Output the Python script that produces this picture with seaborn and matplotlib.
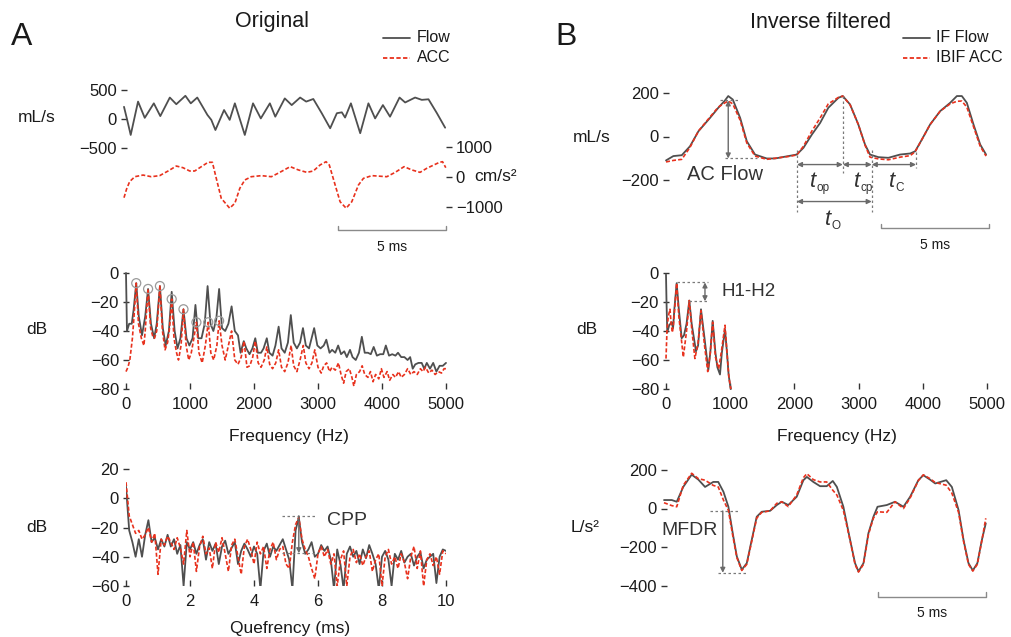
import numpy as np
import matplotlib
matplotlib.use("Agg")
import matplotlib.pyplot as plt
import seaborn as sns

# ---------------- data ----------------
# A: original flow (mL/s) and accelerometer (cm/s^2) vs time (ms)
flow_t = [0.00,0.15,0.31,0.65,0.96,1.38,1.68,2.12,2.42,2.84,3.09,3.39,3.86,4.04,4.23,4.63,4.89,5.13,5.59,5.97,
          6.33,6.75,7.00,7.44,7.76,8.15,8.43,8.76,9.15,9.54,9.85,10.08,10.23,10.50,10.93,11.31,11.62,11.98,12.31,
          12.75,13.01,13.47,13.78,14.09,14.48,14.86]
flow_v = [210,-20,-275,300,20,270,50,370,255,400,270,370,70,-15,-190,155,-15,270,-275,270,
          10,270,40,355,240,370,300,345,100,-160,100,115,25,270,-245,270,10,240,40,
          370,285,370,330,340,100,-150]
acc_t = [0.00,0.12,0.26,0.50,0.88,1.26,1.65,2.04,2.42,2.73,3.04,3.27,3.58,3.89,4.09,4.27,4.50,4.89,5.13,5.36,
         5.59,5.89,6.36,6.82,7.21,7.69,8.07,8.46,8.76,9.07,9.35,9.50,9.77,10.00,10.28,10.54,10.85,11.08,11.47,
         12.16,12.55,12.96,13.32,13.70,14.01,14.60,14.74,14.89]
acc_v = [-690,-400,-155,10,65,10,45,200,365,310,200,200,345,490,490,-45,-710,-1040,-875,-375,
         -100,10,45,10,155,345,235,155,200,400,510,400,-265,-825,-1040,-825,-265,-45,45,
         10,155,345,235,155,290,490,510,310]

# A: spectra (Hz, dB)
specL_flow_f = [0,15,50,90,120,160,200,250,300,345,390,440,480,530,575,620,670,714,760,805,
                850,898,945,990,1040,1085,1130,1180,1230,1275,1320,1365,1410,1455,1500,1550,1600,1650,1700,1750,
                1790,1840,1880,1930,1975,2020,2060,2110,2150,2200,2240,2290,2335,2385,2430,2480,2530,2575,2620,2670,
                2720,2765,2810,2860,2900,2940,2990,3040,3090,3130,3180,3220,3270,3315,3360,3410,3450,3500,3540,3590,
                3640,3685,3730,3780,3825,3870,3920,3970,4020,4060,4110,4160,4210,4250,4300,4350,4400,4440,4480,4520,
                4570,4620,4660,4700,4750,4800,4850,4900,4950,5000]
specL_flow_db = [0,-40,-35,-35,-25,-7,-30,-43,-30,-11,-35,-45,-35,-9,-38,-50,-40,-13,-40,-52,
                 -45,-25,-45,-50,-45,-22,-45,-45,-35,-9,-35,-40,-32,-11,-38,-40,-35,-23,-40,-43,
                 -55,-47,-52,-56,-52,-45,-55,-55,-52,-45,-55,-57,-50,-37,-52,-55,-48,-29,-48,-52,
                 -48,-38,-50,-52,-45,-38,-50,-52,-50,-46,-55,-53,-55,-50,-56,-54,-58,-53,-58,-60,
                 -55,-44,-55,-55,-56,-51,-57,-56,-56,-50,-57,-56,-57,-55,-58,-58,-60,-58,-66,-63,
                 -62,-62,-66,-62,-66,-62,-68,-64,-64,-62]
specL_acc_f = [0,30,60,100,125,160,195,240,280,300,345,385,420,445,480,530,570,610,650,680,
               714,750,790,820,860,898,940,980,1020,1060,1100,1140,1190,1240,1285,1325,1370,1420,1455,1500,
               1550,1600,1650,1700,1750,1800,1845,1890,1935,1980,2020,2065,2110,2160,2200,2245,2290,2340,2385,2430,
               2480,2530,2580,2620,2670,2720,2770,2810,2860,2905,2950,3000,3050,3090,3135,3180,3220,3270,3320,3360,
               3400,3440,3490,3530,3560,3600,3650,3690,3730,3780,3820,3860,3900,3950,3990,4030,4080,4120,4170,4210,
               4260,4300,4350,4400,4450,4500,4550,4600,4640,4680,4730,4780,4830,4880,4930,4970,5000]
specL_acc_db = [-68,-65,-60,-45,-30,-7,-35,-45,-50,-40,-11,-38,-44,-45,-40,-9,-40,-53,-48,-38,
                -18,-45,-55,-60,-50,-25,-50,-60,-55,-45,-34,-55,-62,-50,-34,-55,-60,-50,-33,-50,
                -60,-50,-40,-60,-63,-58,-47,-65,-64,-58,-47,-62,-65,-60,-51,-63,-66,-62,-53,-65,
                -68,-62,-50,-64,-68,-60,-50,-62,-66,-62,-53,-65,-69,-64,-62,-68,-65,-67,-62,-70,
                -76,-68,-66,-72,-78,-70,-68,-64,-70,-72,-68,-75,-70,-73,-66,-72,-68,-74,-70,-72,
                -68,-72,-70,-66,-70,-68,-70,-66,-68,-65,-69,-67,-70,-68,-69,-66,-66]
harm_f = [160,345,530,714,898,1100,1285,1455]
harm_db = [-7,-11,-9,-18,-25,-34,-34,-33]

# A: cepstra (dB), quefrency 0..10 ms
cep_flow = [8,-22,-30,-40,-28,-40,-25,-15,-30,-27,
            -35,-28,-33,-25,-33,-28,-38,-32,-60,-30,
            -35,-30,-38,-32,-28,-42,-30,-36,-31,-45,
            -33,-29,-38,-34,-30,-45,-36,-31,-35,-40,
            -33,-38,-62,-36,-31,-40,-33,-36,-32,-28,
            -35,-42,-62,-22,-13,-30,-38,-35,-30,-40,
            -38,-32,-36,-33,-42,-62,-35,-45,-62,-38,
            -33,-40,-36,-45,-35,-41,-32,-38,-45,-62,
            -40,-36,-42,-60,-38,-42,-36,-44,-40,-38,
            -46,-40,-37,-48,-42,-40,-38,-58,-40,-35,
            -36]
cep_acc = [11,-12,-18,-24,-22,-28,-25,-20,-30,-24,
           -52,-28,-32,-26,-30,-35,-27,-34,-45,-22,
           -40,-30,-50,-33,-26,-38,-34,-48,-30,-37,
           -27,-38,-50,-32,-28,-40,-52,-33,-28,-35,
           -45,-30,-38,-33,-48,-35,-30,-42,-35,-33,
           -45,-48,-30,-18,-13,-28,-35,-40,-48,-55,
           -38,-33,-40,-35,-45,-38,-60,-42,-36,-60,
           -40,-35,-44,-38,-46,-40,-36,-50,-42,-38,
           -60,-40,-35,-45,-40,-48,-38,-44,-55,-40,
           -33,-48,-36,-60,-42,-38,-46,-40,-52,-36,
           -38]

# B: inverse filtered flow (mL/s)
if_t = [0.00,0.34,0.73,1.11,1.50,2.04,2.42,2.73,2.88,3.09,3.43,3.74,4.12,4.66,5.05,5.66,6.05,6.36,6.75,7.13,
        7.51,7.98,8.18,8.52,8.90,9.21,9.44,9.83,10.29,10.83,11.30,11.53,11.84,12.22,12.69,13.15,13.46,13.69,
        13.92,14.23,14.54,14.81]
if_flow = [-110,-90,-86,-45,24,86,132,166,186,170,86,-22,-83,-101,-101,-90,-83,-52,9,62,
           132,178,186,147,55,-37,-83,-95,-98,-83,-78,-68,-14,55,117,155,186,186,155,55,-37,-83]
ibif_acc = [-117,-110,-105,-50,25,90,135,155,163,150,75,-30,-90,-105,-100,-92,-85,-45,25,85,
            150,180,186,145,55,-40,-95,-103,-107,-95,-88,-70,-14,55,117,150,162,163,135,45,-45,-90]

# B: spectra
specR_flow_f = [0,8,20,50,88,110,130,166,200,244,280,320,363,400,467,500,545,600,659,690,
                727,770,800,841,870,919,950,975,997,1010]
specR_flow_db = [-1,-20,-41,-36,-34,-38,-25,-7,-25,-45,-43,-35,-19,-35,-54,-50,-25,-45,-67,-55,
                 -33,-55,-65,-70,-55,-39,-55,-70,-77,-80]
specR_acc_f = [0,15,35,62,80,100,115,135,166,200,270,320,363,400,450,500,545,600,650,690,
               727,770,820,860,919,950,980,1010]
specR_acc_db = [-59,-40,-30,-25,-35,-41,-36,-25,-7,-30,-58,-40,-19,-38,-59,-48,-26,-50,-68,-55,
                -34,-58,-66,-55,-36,-55,-72,-80]

# B: flow derivative (L/s^2)
der_t = [0.00,0.36,0.59,0.89,1.28,1.59,1.90,2.28,2.51,2.75,2.98,3.18,3.37,3.60,3.83,4.06,4.29,4.52,4.91,5.22,
         5.45,5.75,6.14,6.45,6.61,6.91,7.22,7.53,7.81,8.00,8.30,8.58,8.84,9.00,9.23,9.46,9.69,9.88,10.31,10.69,
         11.08,11.39,11.77,12.00,12.31,12.55,13.06,13.32,13.63,13.86,14.09,14.29,14.50,14.71,14.89]
der_flow = [44,44,35,112,176,150,112,138,138,87,9,-128,-249,-318,-284,-163,-43,-17,-12,18,
            35,18,61,147,164,138,116,116,143,112,9,-146,-284,-327,-284,-128,-43,9,18,35,
            9,61,147,173,150,130,147,112,-8,-163,-284,-322,-284,-163,-77]
der_acc = [30,15,9,120,183,155,147,120,112,44,-10,-140,-255,-322,-290,-170,-50,-20,-12,27,
           35,10,70,160,181,150,138,138,95,70,-10,-150,-290,-330,-290,-135,-50,-17,-20,35,
           0,55,145,175,155,135,121,80,-20,-170,-290,-325,-290,-165,-51]

# ---------------- style ----------------
sns.set_style("white")
plt.rcParams["font.family"] = ["Liberation Sans", "DejaVu Sans"]
plt.rcParams["axes.unicode_minus"] = True

GRAY = "#4f4f4f"
RED = "#e8311d"
ANN = "#7a7a7a"
TXT = "#1a1a1a"
DASH = (0, (2.4, 1.3))
TICKFS = 12

W, H = 1012, 637
fig = plt.figure(figsize=(W / 100, H / 100), dpi=100)


def add_ax(x0, y0, x1, y1):
    ax = fig.add_axes([x0 / W, 1 - y1 / H, (x1 - x0) / W, (y1 - y0) / H])
    ax.set_facecolor("none")
    for sp in ax.spines.values():
        sp.set_visible(False)
    ax.tick_params(axis="both", labelsize=TICKFS, colors="#333333", labelcolor=TXT, width=1)
    return ax


def gline(ax, x, y, lw=1.3):
    sns.lineplot(x=np.asarray(x), y=np.asarray(y), ax=ax, color=GRAY, lw=lw,
                 estimator=None, sort=False, clip_on=False)


def rline(ax, x, y, lw=1.2, clip=False):
    sns.lineplot(x=np.asarray(x), y=np.asarray(y), ax=ax, color=RED, lw=lw,
                 linestyle=DASH, estimator=None, sort=False, clip_on=clip)


def yticks_left(ax, ticks):
    ax.set_yticks(ticks)
    ax.tick_params(axis="y", left=True, direction="inout", length=4, pad=3)


def no_x(ax):
    ax.set_xticks([])


def scalebar(ax, x0, x1, yb, ytk, ylab):
    tr = ax.get_xaxis_transform()
    ax.plot([x0, x0, x1, x1], [ytk, yb, yb, ytk], transform=tr, color="#8a8a8a",
            lw=1.0, clip_on=False)
    ax.text((x0 + x1) / 2, ylab, "5 ms", transform=tr, ha="center", va="center",
            fontsize=10, color=TXT)


def hdot(ax, x0, x1, y):
    ax.plot([x0, x1], [y, y], color=ANN, lw=0.9, ls=(0, (2, 2)), clip_on=False)


def vdot(ax, x, y0, y1):
    ax.plot([x, x], [y0, y1], color=ANN, lw=0.9, ls=(0, (2, 2)), clip_on=False)


def darrow(ax, p0, p1, style="<|-|>"):
    ax.annotate("", xy=p1, xytext=p0, annotation_clip=False,
                arrowprops=dict(arrowstyle=style, color="#6a6a6a", lw=1.0,
                                mutation_scale=7, shrinkA=0, shrinkB=0))


def tlabel(ax, x, y, sub):
    ax.annotate("t", xy=(x, y), xytext=(-1.5, 0), textcoords="offset points",
                fontsize=16, fontstyle="italic", color="#333333", ha="right", va="center",
                annotation_clip=False)
    ax.annotate(sub, xy=(x, y), xytext=(-1.0, -5), textcoords="offset points",
                fontsize=8.5, color="#333333", ha="left", va="center", annotation_clip=False)


# ---------------- A: time signals ----------------
axFL = add_ax(124, 90, 446, 148)
gline(axFL, flow_t, flow_v)
axFL.set_xlim(0, 14.9)
axFL.set_ylim(-500, 500)
yticks_left(axFL, [-500, 0, 500])
no_x(axFL)

axAL = add_ax(124, 147, 446, 207)
rline(axAL, acc_t, acc_v)
axAL.set_xlim(0, 14.9)
axAL.set_ylim(-1000, 1000)
axAL.set_yticks([-1000, 0, 1000])
axAL.yaxis.tick_right()
axAL.tick_params(axis="y", right=True, left=False, direction="out", length=4, pad=3)
no_x(axAL)
scalebar(axAL, 9.92, 14.92, -0.383, -0.317, -0.667)

# ---------------- A: spectrum ----------------
axSL = add_ax(126, 273, 446, 389)
gline(axSL, specL_flow_f, specL_flow_db)
rline(axSL, specL_acc_f, specL_acc_db)
axSL.scatter(harm_f, harm_db, s=42, facecolors="none", edgecolors="#9a9a9a", lw=0.9,
             zorder=5, clip_on=False)
axSL.set_xlim(0, 5000)
axSL.set_ylim(-80, 0)
yticks_left(axSL, [-80, -60, -40, -20, 0])
axSL.set_xticks([0, 1000, 2000, 3000, 4000, 5000])
axSL.tick_params(axis="x", bottom=True, direction="in", length=4, pad=6)

# ---------------- A: cepstrum ----------------
cep_q = np.linspace(0, 10, len(cep_flow))
axCL = add_ax(126, 469, 446, 586)
gline(axCL, cep_q, cep_flow)
axCL.lines[-1].set_clip_on(True)
rline(axCL, cep_q, cep_acc, clip=True)
axCL.set_xlim(0, 10)
axCL.set_ylim(-60, 20)
yticks_left(axCL, [-60, -40, -20, 0, 20])
axCL.set_xticks([0, 2, 4, 6, 8, 10])
axCL.tick_params(axis="x", bottom=True, direction="in", length=4, pad=6)
hdot(axCL, 4.88, 5.9, -12)
hdot(axCL, 4.88, 5.9, -37.6)
darrow(axCL, (5.4, -12), (5.4, -37.6), style="-|>")
axCL.text(6.28, -15, "CPP", fontsize=14, color="#333333", ha="left", va="center")

# ---------------- B: inverse filtered flow ----------------
axFR = add_ax(666, 93, 988, 180)
gline(axFR, if_t, if_flow)
rline(axFR, if_t, ibif_acc)
axFR.set_xlim(0, 14.9)
axFR.set_ylim(-200, 200)
yticks_left(axFR, [-200, 0, 200])
no_x(axFR)
# AC flow
hdot(axFR, 2.5, 3.43, 166)
hdot(axFR, 2.73, 4.2, -101)
darrow(axFR, (2.88, 166), (2.88, -101))
axFR.text(2.73, -177, "AC Flow", fontsize=14.5, color="#333333", ha="center", va="center")
# timing markers
t1, t2, t3, t4 = 6.06, 8.18, 9.52, 11.57
vdot(axFR, t1, -60, -345)
vdot(axFR, t2, 186, -166)
vdot(axFR, t3, -60, -345)
vdot(axFR, t4, -69, -143)
for a, b in [(t1, t2), (t2, t3), (t3, t4)]:
    darrow(axFR, (a, -129), (b, -129))
darrow(axFR, (t1, -299), (t3, -299))
tlabel(axFR, 7.04, -205, "op")
tlabel(axFR, 9.07, -205, "cp")
tlabel(axFR, 10.69, -205, "C")
tlabel(axFR, 7.73, -380, "O")
scalebar(axFR, 9.94, 14.94, -0.555, -0.506, -0.747)

# ---------------- B: spectrum ----------------
axSR = add_ax(666, 273, 987, 389)
gline(axSR, specR_flow_f, specR_flow_db)
rline(axSR, specR_acc_f, specR_acc_db)
axSR.set_xlim(0, 5000)
axSR.set_ylim(-80, 0)
yticks_left(axSR, [-80, -60, -40, -20, 0])
axSR.set_xticks([0, 1000, 2000, 3000, 4000, 5000])
axSR.tick_params(axis="x", bottom=True, direction="in", length=4, pad=6)
hdot(axSR, 167, 659, -6.5)
hdot(axSR, 363, 659, -19.5)
darrow(axSR, (607, -6.5), (607, -19.5))
axSR.text(872, -13, "H1-H2", fontsize=13.5, color="#333333", ha="left", va="center")

# ---------------- B: flow derivative ----------------
axDR = add_ax(664, 470, 986, 585.5)
gline(axDR, der_t, der_flow)
rline(axDR, der_t, der_acc)
axDR.set_xlim(0, 14.9)
axDR.set_ylim(-400, 200)
yticks_left(axDR, [-400, -200, 0, 200])
no_x(axDR)
hdot(axDR, 2.13, 3.47, -13)
hdot(axDR, 2.5, 3.9, -334)
darrow(axDR, (2.72, -13), (2.72, -334), style="-|>")
axDR.text(1.18, -112, "MFDR", fontsize=14, color="#333333", ha="center", va="center")
scalebar(axDR, 9.92, 14.92, -0.097, -0.056, -0.241)

# ---------------- figure texts ----------------
def ftext(x, y, s, fs, ha="center", **kw):
    fig.text(x / W, 1 - y / H, s, fontsize=fs, ha=ha, va="center", color=TXT, **kw)

ftext(22, 37, "A", 23)
ftext(566, 37, "B", 23)
ftext(272, 22, "Original", 15.5)
ftext(821, 22, "Inverse filtered", 15.5)

ftext(37, 118, "mL/s", 12.5)
ftext(474, 177, "cm/s²", 12.5, ha="left")
ftext(37, 330, "dB", 12.5)
ftext(37, 527, "dB", 12.5)
ftext(592, 137, "mL/s", 12.5)
ftext(587, 330, "dB", 12.5)
ftext(585, 528, "L/s²", 12.5)

ftext(289, 437, "Frequency (Hz)", 12.5)
ftext(837, 437, "Frequency (Hz)", 12.5)
ftext(290, 629, "Quefrency (ms)", 12.5)

# legends
from matplotlib.lines import Line2D
def legline(x0, x1, y, color, ls):
    fig.add_artist(Line2D([x0 / W, x1 / W], [1 - y / H, 1 - y / H], color=color, lw=1.3, ls=ls))

legline(383, 410, 37.5, GRAY, "-")
legline(383, 410, 57.5, RED, DASH)
ftext(417, 37.5, "Flow", 11.5, ha="left")
ftext(417, 57.5, "ACC", 11.5, ha="left")
legline(903, 930, 37.5, GRAY, "-")
legline(903, 930, 57.5, RED, DASH)
ftext(936, 37.5, "IF Flow", 11.5, ha="left")
ftext(936, 57.5, "IBIF ACC", 11.5, ha="left")

for ax in fig.axes:
    ax.set_xlabel("")
    ax.set_ylabel("")

fig.savefig("out.png", dpi=100)
